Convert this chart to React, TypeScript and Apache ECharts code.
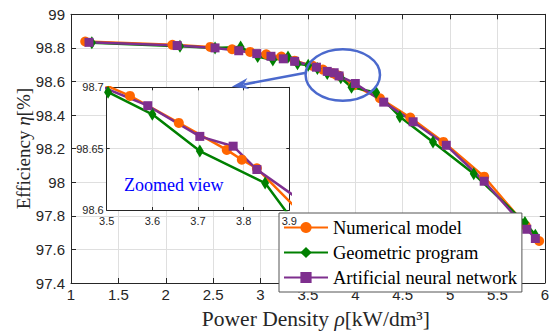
import React, { useEffect, useRef } from 'react';
import * as echarts from 'echarts';

// Numerical model (orange circles)
const numX = [1.15, 2.07, 2.47, 2.70, 2.89, 3.06, 3.22, 3.36, 3.551, 3.658, 3.763, 3.796, 3.829, 3.98, 4.26, 4.58, 4.93, 5.36, 5.80, 5.94];
const numY = [98.838, 98.818, 98.806, 98.792, 98.776, 98.762, 98.748, 98.724, 98.693, 98.671, 98.649, 98.641, 98.634, 98.577, 98.50, 98.385, 98.24, 98.033, 97.74, 97.65];

// Geometric program (green diamonds)
const gpX = [1.22, 2.15, 2.52, 2.79, 2.97, 3.13, 3.29, 3.39, 3.503, 3.60, 3.704, 3.847, 3.96, 4.22, 4.47, 4.82, 5.25, 5.79, 5.90];
const gpY = [98.830, 98.810, 98.800, 98.805, 98.748, 98.728, 98.745, 98.705, 98.696, 98.678, 98.648, 98.622, 98.565, 98.535, 98.39, 98.24, 98.05, 97.76, 97.685];

// Artificial neural network (purple squares)
const annX = [1.19, 2.12, 2.52, 2.77, 2.96, 3.11, 3.24, 3.36, 3.59, 3.704, 3.777, 3.829, 4.00, 4.30, 4.61, 4.96, 5.36, 5.81, 5.90];
const annY = [98.833, 98.814, 98.800, 98.783, 98.766, 98.750, 98.735, 98.720, 98.685, 98.660, 98.652, 98.633, 98.588, 98.477, 98.36, 98.22, 98.006, 97.72, 97.665];

const seriesNames = ['Numerical model', 'Geometric program', 'Artificial neural network'];

const mainX = { min: 1, max: 6, interval: 0.5 };
const mainY = { min: 97.4, max: 99, interval: 0.2 };
const zoomX = { min: 3.5, max: 3.9, interval: 0.1 };
const zoomY = { min: 98.6, max: 98.7, interval: 0.05 };

const AX = '#262626';
const GRIDC = '#dfdfdf';
const ORANGE = '#FF6600';
const GREEN = '#008000';
const PURPLE = '#7E2F8E';
const BLUE = 'rgb(75,105,205)';

const pairs = (xs: number[], ys: number[]) => xs.map((x, i) => [x, ys[i]]);

function axisCommon(gridIndex: number, range: any, pos: string, labels: boolean, z: number, tickLen: number, fontSize: number, margin: number) {
  return {
    type: 'value',
    gridIndex,
    position: pos,
    min: range.min,
    max: range.max,
    interval: range.interval,
    z,
    axisLine: { show: true, onZero: false, lineStyle: { color: AX, width: 1 } },
    axisTick: { show: true, inside: true, length: tickLen, lineStyle: { color: AX } },
    axisLabel: { show: labels, color: AX, fontSize, fontFamily: 'Liberation Sans', margin },
    splitLine: { show: labels, lineStyle: { color: GRIDC, width: 1 } },
  };
}

function makeSeries(xi: number, z: number) {
  return [
    {
      name: seriesNames[0], type: 'line', xAxisIndex: xi, yAxisIndex: xi, z,
      data: pairs(numX, numY), symbol: 'circle', symbolSize: 10, showSymbol: true,
      lineStyle: { color: ORANGE, width: 2.5 }, itemStyle: { color: ORANGE }, clip: true,
    },
    {
      name: seriesNames[1], type: 'line', xAxisIndex: xi, yAxisIndex: xi, z,
      data: pairs(gpX, gpY), symbol: 'diamond', symbolSize: [8, 13], showSymbol: true,
      lineStyle: { color: GREEN, width: 2.5 }, itemStyle: { color: GREEN }, clip: true,
    },
    {
      name: seriesNames[2], type: 'line', xAxisIndex: xi, yAxisIndex: xi, z,
      data: pairs(annX, annY), symbol: 'rect', symbolSize: 9, showSymbol: true,
      lineStyle: { color: PURPLE, width: 2.5 }, itemStyle: { color: PURPLE }, clip: true,
    },
  ];
}

export default function App() {
  const ref = useRef<HTMLDivElement>(null);
  useEffect(() => {
    document.body.style.margin = '0';
    const chart = echarts.init(ref.current!, null, { renderer: 'svg' });
    const xMainBottom: any = axisCommon(0, mainX, 'bottom', true, 1, 5, 15, 4);
    xMainBottom.name = 'Power Density {i|ρ}[kW/dm³]';
    xMainBottom.nameLocation = 'middle';
    xMainBottom.nameGap = 25;
    xMainBottom.nameTextStyle = {
      fontFamily: 'Liberation Serif', fontSize: 21.5, color: AX, padding: [0, 0, 0, 16],
      rich: { i: { fontFamily: 'Liberation Serif', fontSize: 21.5, fontStyle: 'italic', color: AX } },
    };
    const yMainLeft: any = axisCommon(0, mainY, 'left', true, 1, 5, 15, 6);
    yMainLeft.name = 'Efficiency {i|η}[%]';
    yMainLeft.nameLocation = 'middle';
    yMainLeft.nameGap = 38;
    yMainLeft.nameMoveOverlap = false;
    yMainLeft.nameTextStyle = {
      fontFamily: 'Liberation Serif', fontSize: 19, color: AX,
      rich: { i: { fontFamily: 'Liberation Serif', fontSize: 19, fontStyle: 'italic', color: AX } },
    };
    const option: any = {
      animation: false,
      backgroundColor: '#fff',
      grid: [
        { left: 71, top: 14.3, width: 478.5, height: 271.7 },
        { left: 106.7, top: 87.3, width: 182.6, height: 122.7 },
      ],
      xAxis: [
        xMainBottom,
        axisCommon(0, mainX, 'top', false, 1, 5, 15, 4),
        axisCommon(1, zoomX, 'bottom', true, 12, 3, 11, 5),
        axisCommon(1, zoomX, 'top', false, 12, 3, 11, 5),
      ],
      yAxis: [
        yMainLeft,
        axisCommon(0, mainY, 'right', false, 1, 5, 15, 6),
        axisCommon(1, zoomY, 'left', true, 12, 3, 11, 3),
        axisCommon(1, zoomY, 'right', false, 12, 3, 11, 3),
      ],
      legend: {
        orient: 'vertical', left: 279, top: 213, padding: [5, 5, 5, 4],
        itemWidth: 44, itemHeight: 14, itemGap: 6,
        backgroundColor: '#fff', borderColor: '#555', borderWidth: 1, borderRadius: 0,
        z: 10, selectedMode: false,
        textStyle: { fontFamily: 'Liberation Serif', fontSize: 18.5, color: '#000', lineHeight: 16 },
        data: seriesNames,
      },
      series: [
        ...makeSeries(0, 2),
        ...makeSeries(2, 13),
      ],
      graphic: [
        { type: 'rect', z: 11, silent: true, shape: { x: 106.7, y: 87.3, width: 182.6, height: 122.7 }, style: { fill: '#fff' } },
        { type: 'text', z: 20, x: 124, y: 185, style: { text: 'Zoomed view', fill: '#0000ff', fontSize: 18, fontFamily: 'Liberation Serif', verticalAlign: 'middle' } },
        { type: 'ellipse', z: 20, shape: { cx: 342.8, cy: 75, rx: 37.2, ry: 25.7 }, style: { fill: 'none', stroke: BLUE, lineWidth: 2.5 } },
        { type: 'line', z: 20, shape: { x1: 306, y1: 72.7, x2: 244, y2: 84.4 }, style: { stroke: BLUE, lineWidth: 2.5 } },
        { type: 'polygon', z: 20, shape: { points: [[231.7, 86.7], [247.4, 78.1], [243.5, 84.5], [249.4, 89.0]] }, style: { fill: BLUE } },
      ],
    };
    chart.setOption(option);
    return () => chart.dispose();
  }, []);
  return <div ref={ref} style={{ width: 552, height: 335 }} />;
}
